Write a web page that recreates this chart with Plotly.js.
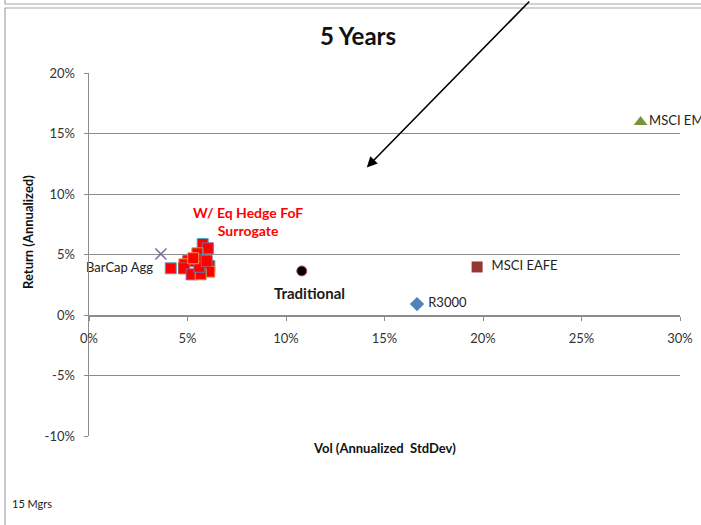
<!DOCTYPE html>
<html>
<head>
<meta charset="utf-8">
<script src="https://cdn.plot.ly/plotly-3.0.1.min.js"></script>
<style>
html,body{margin:0;padding:0;background:#fff;}
#chart{width:701px;height:525px;}
</style>
</head>
<body>
<div id="chart"></div>
<script>
// ---- data (Vol %, Return %) ----
const fofVol = [4.15, 5.77, 6.03, 5.50, 5.04, 5.60, 4.84, 4.82, 6.11, 6.11, 5.21, 5.67, 5.60, 5.97, 5.29];
const fofRet = [3.86, 5.87, 5.51, 5.10, 4.46, 4.55, 4.19, 3.86, 4.05, 3.58, 3.36, 3.36, 3.99, 4.46, 4.69];
const fofEdge = ['#4bacc6','#4bacc6','#8064a2','#9bbb59','#8064a2','#4f81bd','#f79646','#c0504d','#4bacc6','#f79646','#8064a2','#9bbb59','#4f81bd','#c0504d','#f79646'];

const indexNames = ['BarCap Agg', 'MSCI EM', 'MSCI EAFE', 'R3000', 'Traditional'];
const indexVol   = [3.65, 28.0, 19.7, 16.65, 10.8];
const indexRet   = [5.04, 15.95, 3.97, 0.90, 3.64];

const xTicks = [0, 5, 10, 15, 20, 25, 30];
const yTicks = [-10, -5, 0, 5, 10, 15, 20];

const arrowHead = [14.1, 12.2]; // point the arrow aims at (Vol, Return)

const FONT = 'Lato, "Liberation Sans", sans-serif';
const GRID = '#8c8c8c';

const traces = [
  {
    x: [indexVol[0]], y: [indexRet[0]], mode: 'markers+text', type: 'scatter',
    text: [indexNames[0]], textposition: 'bottom left',
    textfont: {family: FONT, size: 13, color: '#222'},
    marker: {symbol: 'x-thin', size: 11, line: {color: '#8064a2', width: 1.5}, color: '#8064a2'},
    cliponaxis: false
  },
  {
    x: [indexVol[1]], y: [indexRet[1]], mode: 'markers+text', type: 'scatter',
    text: [indexNames[1]], textposition: 'middle right',
    textfont: {family: FONT, size: 13, color: '#222'},
    marker: {symbol: 'triangle-up', size: 12, color: '#77933c'},
    cliponaxis: false
  },
  {
    x: [indexVol[2]], y: [indexRet[2]], mode: 'markers+text', type: 'scatter',
    text: ['  ' + indexNames[2]], textposition: 'middle right',
    textfont: {family: FONT, size: 13, color: '#222'},
    marker: {symbol: 'square', size: 11, color: '#953735'},
    cliponaxis: false
  },
  {
    x: [indexVol[3]], y: [indexRet[3]], mode: 'markers+text', type: 'scatter',
    text: [' ' + indexNames[3]], textposition: 'middle right',
    textfont: {family: FONT, size: 13, color: '#222'},
    marker: {symbol: 'diamond', size: 11, color: '#4f81bd'},
    cliponaxis: false
  },
  {
    x: [indexVol[4]], y: [indexRet[4]], mode: 'markers', type: 'scatter',
    marker: {symbol: 'circle', size: 10, color: '#000', line: {color: '#c0504d', width: 1}},
    cliponaxis: false
  },
  {
    x: fofVol, y: fofRet, mode: 'markers', type: 'scatter',
    marker: {symbol: 'square', size: 11, color: '#ff0000', line: {color: fofEdge, width: 1}},
    cliponaxis: false
  }
];

const L = 89, R = 680, T = 73, B = 436, W = 701, H = 525;
const px = v => (v - L) / (R - L);
const py = v => (B - v) / (B - T);

const layout = {
  width: W, height: H,
  margin: {l: L, r: W - R, t: T, b: H - B},
  paper_bgcolor: '#fff', plot_bgcolor: '#fff',
  showlegend: false,
  font: {family: FONT, size: 12, color: '#222'},
  title: {
    text: '<b>5 Years</b>', x: 358 / W, xref: 'container', xanchor: 'center',
    y: 1 - 37 / H, yref: 'container', yanchor: 'middle',
    font: {family: FONT, size: 24, color: '#111'}
  },
  xaxis: {
    range: [0, 30], tickvals: xTicks, ticktext: xTicks.map(v => v + '%'),
    showgrid: false, zeroline: false,
    showline: true, linecolor: GRID, linewidth: 1.5,
    ticks: 'outside', ticklen: 4, tickcolor: GRID,
    anchor: 'free', position: 1 / 3, ticklabelstandoff: 7,
    tickfont: {family: FONT, size: 13, color: '#333'},
    fixedrange: true
  },
  yaxis: {
    range: [-10, 20], tickvals: yTicks, ticktext: yTicks.map(v => v + '%'),
    showgrid: true, gridcolor: GRID, gridwidth: 1, zeroline: false,
    showline: true, linecolor: GRID, linewidth: 1.5,
    ticks: 'outside', ticklen: 4, tickcolor: GRID, ticklabelstandoff: 6,
    tickfont: {family: FONT, size: 13, color: '#333'},
    fixedrange: true
  },
  annotations: [
    {
      xref: 'paper', yref: 'paper', x: px(384), y: py(448),
      text: '<b>Vol (Annualized  StdDev)</b>', showarrow: false,
      font: {family: FONT, size: 13, color: '#111'}, xanchor: 'center', yanchor: 'middle'
    },
    {
      xref: 'paper', yref: 'paper', x: px(28), y: py(232),
      text: '<b>Return (Annualized)</b>', showarrow: false, textangle: -90,
      font: {family: FONT, size: 13, color: '#111'}, xanchor: 'center', yanchor: 'middle'
    },
    {
      xref: 'paper', yref: 'paper', x: px(10), y: py(503),
      text: '15 Mgrs', showarrow: false,
      font: {family: FONT, size: 11, color: '#222'}, xanchor: 'left', yanchor: 'middle'
    },
    {
      xref: 'x', yref: 'y', x: indexVol[4], y: indexRet[4],
      text: '<b>' + indexNames[4] + '</b>', showarrow: false, yshift: -22, xshift: 8,
      font: {family: FONT, size: 15, color: '#1a1a1a'}, xanchor: 'center', yanchor: 'middle'
    },
    {
      xref: 'x', yref: 'y', x: 8.07, y: 7.75,
      text: '<b>W/ Eq Hedge FoF<br>Surrogate</b>', showarrow: false,
      font: {family: FONT, size: 14, color: '#ff0000'}, xanchor: 'center', yanchor: 'middle'
    },
    {
      xref: 'x', yref: 'y', x: arrowHead[0], y: arrowHead[1],
      text: '', showarrow: true, axref: 'pixel', ayref: 'pixel', ax: 164, ay: -172,
      arrowhead: 2, arrowsize: 1.3, arrowwidth: 1.6, arrowcolor: '#000'
    }
  ],
  shapes: [
    {type: 'rect', xref: 'paper', yref: 'paper', x0: px(5), x1: px(704), y0: py(528), y1: py(8),
     line: {color: '#a6a6a6', width: 1.2}, fillcolor: 'rgba(0,0,0,0)', layer: 'below'},
    {type: 'rect', xref: 'paper', yref: 'paper', x0: px(5), x1: px(704), y0: py(4), y1: py(-6),
     line: {color: '#a6a6a6', width: 1.2}, fillcolor: 'rgba(0,0,0,0)', layer: 'below'}
  ]
};

Plotly.newPlot('chart', traces, layout, {displayModeBar: false, staticPlot: true});
</script>
</body>
</html>
